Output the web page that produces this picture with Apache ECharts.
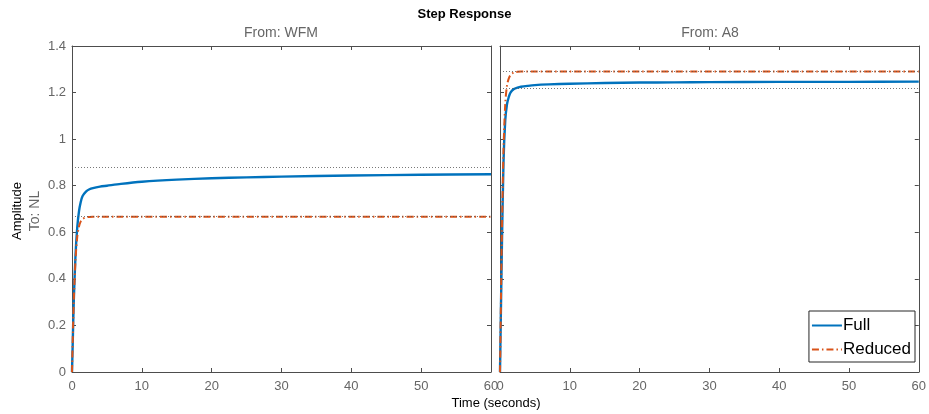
<!DOCTYPE html>
<html>
<head>
<meta charset="utf-8">
<script src="https://cdn.jsdelivr.net/npm/echarts@6/dist/echarts.min.js"></script>
<style>
  html, body { margin: 0; padding: 0; background: #fff; }
  #chart { width: 929px; height: 414px; }
</style>
</head>
<body>
<div id="chart"></div>
<script>
// time samples (seconds)
var timeWfm = [0, 0.1, 0.25, 0.5, 0.75, 1, 1.25, 1.5, 2, 2.5, 3, 4, 5, 7, 10, 15, 20, 25, 30, 40, 50, 60];
var fullWfm = [0, 0.12, 0.3, 0.5, 0.62, 0.69, 0.73, 0.755, 0.775, 0.785, 0.79, 0.796, 0.80, 0.808, 0.817, 0.826, 0.832, 0.836, 0.839, 0.844, 0.847, 0.849];
var reducedWfm = [0, 0.13, 0.3, 0.48, 0.58, 0.625, 0.647, 0.657, 0.664, 0.666, 0.667, 0.667, 0.667, 0.667, 0.667, 0.667, 0.667, 0.667, 0.667, 0.667, 0.667, 0.667];

var timeA8 = [0, 0.1, 0.25, 0.5, 0.75, 1, 1.25, 1.5, 2, 2.5, 3, 4, 5, 7, 10, 15, 20, 25, 30, 40, 50, 60];
var fullA8 = [0, 0.2, 0.5, 0.9, 1.08, 1.15, 1.18, 1.2, 1.215, 1.221, 1.225, 1.229, 1.232, 1.235, 1.238, 1.241, 1.243, 1.244, 1.245, 1.246, 1.246, 1.247];
var reducedA8 = [0, 0.22, 0.55, 0.95, 1.15, 1.23, 1.26, 1.275, 1.287, 1.289, 1.29, 1.29, 1.29, 1.29, 1.29, 1.29, 1.29, 1.29, 1.29, 1.29, 1.29, 1.29];

// steady-state levels (dotted)
var steadyWfm = [0.876, 0.667];
var steadyA8 = [1.223, 1.29];

var xTicks = [0, 10, 20, 30, 40, 50, 60];
var yTicks = [0, 0.2, 0.4, 0.6, 0.8, 1, 1.2, 1.4];

function pairs(t, v) {
  return t.map(function (x, i) { return [x, v[i]]; });
}

var chart = echarts.init(document.getElementById("chart"));
var fontFam = "Liberation Sans, Arial, sans-serif";
var axisCol = "#4d4d4d";
var labelCol = "#666666";
var blue = "#0072BD";
var orange = "#D95319";

function xAxisPair(gi) {
  var base = {
    gridIndex: gi, type: "value", min: xTicks[0], max: xTicks[xTicks.length - 1], interval: 10,
    axisLine: { show: true, onZero: false, lineStyle: { color: axisCol, width: 1 } },
    axisTick: { show: true, inside: true, length: 4, lineStyle: { color: axisCol } },
    splitLine: { show: false }
  };
  var bottom = Object.assign({}, base, {
    position: "bottom",
    axisLabel: { show: true, color: labelCol, fontSize: 13, fontFamily: fontFam, margin: 8 }
  });
  var top = Object.assign({}, base, { position: "top", axisLabel: { show: false } });
  return [bottom, top];
}

function yAxisPair(gi, showLabels) {
  var base = {
    gridIndex: gi, type: "value", min: yTicks[0], max: yTicks[yTicks.length - 1], interval: 0.2,
    axisLine: { show: true, onZero: false, lineStyle: { color: axisCol, width: 1 } },
    axisTick: { show: true, inside: true, length: 4, lineStyle: { color: axisCol } },
    splitLine: { show: false }
  };
  var left = Object.assign({}, base, {
    position: "left",
    axisLabel: {
      show: showLabels, color: labelCol, fontSize: 13, fontFamily: fontFam, margin: 6,
      formatter: function (v) { return String(Math.round(v * 10) / 10); }
    }
  });
  var right = Object.assign({}, base, { position: "right", axisLabel: { show: false } });
  return [left, right];
}

function steadyLine(level) {
  return {
    silent: true, symbol: "none", animation: false,
    label: { show: false },
    lineStyle: { color: "#555", type: [1, 2], width: 0.8 },
    data: [{ yAxis: level }]
  };
}

var xs = xAxisPair(0).concat(xAxisPair(1));
var ys = yAxisPair(0, true).concat(yAxisPair(1, false));

var option = {
  animation: false,
  textStyle: { fontFamily: fontFam },
  grid: [
    { left: 72, top: 46, width: 419, height: 326 },
    { left: 500, top: 46, width: 420, height: 326 }
  ],
  xAxis: xs,
  yAxis: ys,
  legend: {
    orient: "vertical",
    right: 14, bottom: 52,
    data: ["Full", "Reduced"],
    backgroundColor: "#fff",
    borderColor: "#262626", borderWidth: 1, borderRadius: 0,
    padding: [6, 4, 4, 2],
    itemGap: 7, itemWidth: 30, itemHeight: 14,
    itemStyle: { opacity: 0 },
    textStyle: { color: "#000", fontSize: 17, fontFamily: fontFam, padding: [0, 0, 0, -4] }
  },
  graphic: [
    { type: "text", left: "center", top: 8, style: { text: "Step Response", font: "bold 13px " + fontFam, fill: "#000" } },
    { type: "text", x: 281, y: 26, style: { text: "From: WFM", font: "14px " + fontFam, fill: labelCol, textAlign: "center" } },
    { type: "text", x: 710, y: 26, style: { text: "From: A8", font: "14px " + fontFam, fill: labelCol, textAlign: "center" } },
    { type: "text", x: 496, y: 397, style: { text: "Time (seconds)", font: "13px " + fontFam, fill: "#000", textAlign: "center" } },
    { type: "text", x: 11, y: 211, rotation: Math.PI / 2, style: { text: "Amplitude", font: "13px " + fontFam, fill: "#000", textAlign: "center" } },
    { type: "text", x: 28, y: 211, rotation: Math.PI / 2, style: { text: "To: NL", font: "14px " + fontFam, fill: labelCol, textAlign: "center" } }
  ],
  series: [
    {
      name: "Full", type: "line", xAxisIndex: 0, yAxisIndex: 0, symbol: "none", smooth: 0.3,
      data: pairs(timeWfm, fullWfm), color: blue,
      lineStyle: { color: blue, width: 2.4 },
      markLine: steadyLine(steadyWfm[0])
    },
    {
      name: "Reduced", type: "line", xAxisIndex: 0, yAxisIndex: 0, symbol: "none", smooth: 0.3,
      data: pairs(timeWfm, reducedWfm), color: orange,
      lineStyle: { color: orange, width: 2, type: [7, 3, 1.5, 3] },
      markLine: steadyLine(steadyWfm[1])
    },
    {
      name: "Full", type: "line", xAxisIndex: 2, yAxisIndex: 2, symbol: "none", smooth: 0.3,
      data: pairs(timeA8, fullA8), color: blue,
      lineStyle: { color: blue, width: 2.4 },
      markLine: steadyLine(steadyA8[0])
    },
    {
      name: "Reduced", type: "line", xAxisIndex: 2, yAxisIndex: 2, symbol: "none", smooth: 0.3,
      data: pairs(timeA8, reducedA8), color: orange,
      lineStyle: { color: orange, width: 2, type: [7, 3, 1.5, 3] },
      markLine: steadyLine(steadyA8[1])
    }
  ]
};

chart.setOption(option);
</script>
</body>
</html>
